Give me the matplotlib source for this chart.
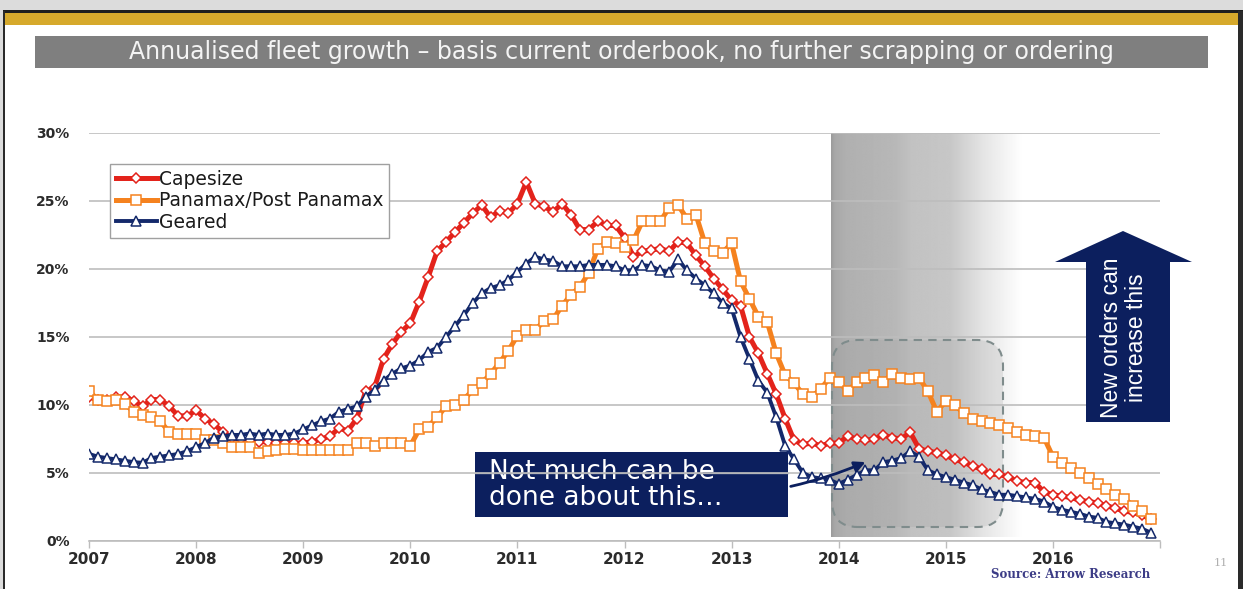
import numpy as np
import matplotlib
matplotlib.use("Agg")
import matplotlib.pyplot as plt
from matplotlib.patches import Rectangle, Polygon, FancyBboxPatch

# ---------------- data (percent, monthly Jan-2007 .. Dec-2016) ----------------
years = [2007, 2008, 2009, 2010, 2011, 2012, 2013, 2014, 2015, 2016]
tick_labels = ["2007", "2008", "2009", "2010", "2011", "2012", "2013", "2014", "2015", "2016", ""]
y_ticks = [0, 5, 10, 15, 20, 25, 30]

capesize = [
    10.6, 10.4, 10.4, 10.6, 10.6, 10.3, 9.9, 10.4, 10.4, 9.9, 9.2, 9.2,
    9.6, 9.0, 8.6, 8.0, 7.6, 7.5, 7.4, 7.3, 7.3, 7.2, 7.2, 7.2,
    7.2, 7.3, 7.5, 7.7, 8.3, 8.1, 9.0, 11.0, 11.3, 13.4, 14.5, 15.4,
    16.0, 17.6, 19.4, 21.3, 22.0, 22.7, 23.4, 24.1, 24.7, 23.8, 24.3, 24.1,
    24.8, 26.4, 24.8, 24.6, 24.2, 24.8, 24.0, 22.9, 22.9, 23.5, 23.2, 23.2,
    22.3, 20.9, 21.3, 21.4, 21.5, 21.3, 22.0, 21.9, 21.0, 20.2, 19.3, 18.5,
    17.7, 17.3, 15.0, 13.8, 12.3, 10.8, 9.0, 7.4, 7.1, 7.2, 7.0, 7.2,
    7.2, 7.7, 7.5, 7.4, 7.5, 7.8, 7.6, 7.5, 8.0, 6.8, 6.6, 6.5,
    6.3, 6.0, 5.8, 5.5, 5.3, 4.9, 4.9, 4.7, 4.4, 4.3, 4.3, 3.6,
    3.4, 3.3, 3.2, 3.0, 2.9, 2.8, 2.6, 2.4, 2.2, 2.1, 1.9, 1.6,
]
panamax = [
    11.0, 10.4, 10.3, 10.4, 10.1, 9.5, 9.3, 9.1, 8.8, 8.0, 7.9, 7.9,
    7.9, 7.4, 7.4, 7.2, 6.9, 6.9, 6.9, 6.5, 6.6, 6.7, 6.8, 6.8,
    6.7, 6.7, 6.7, 6.7, 6.7, 6.7, 7.2, 7.2, 7.0, 7.2, 7.2, 7.2,
    7.0, 8.2, 8.4, 9.1, 9.9, 10.0, 10.4, 11.1, 11.6, 12.3, 13.1, 14.0,
    15.1, 15.5, 15.5, 16.2, 16.3, 17.3, 18.1, 18.7, 19.7, 21.5, 22.0, 21.9,
    21.6, 22.1, 23.5, 23.5, 23.5, 24.5, 24.7, 23.7, 24.0, 21.9, 21.3, 21.2,
    21.9, 19.1, 17.8, 16.5, 16.1, 13.8, 12.2, 11.6, 10.8, 10.6, 11.2, 12.0,
    11.7, 11.0, 11.7, 12.0, 12.2, 11.7, 12.3, 12.0, 11.9, 12.0, 11.0, 9.5,
    10.3, 10.0, 9.4, 9.0, 8.8, 8.65, 8.5, 8.3, 8.0, 7.8, 7.7, 7.6,
    6.2, 5.7, 5.4, 5.0, 4.6, 4.2, 3.8, 3.4, 3.1, 2.6, 2.2, 1.6,
]
geared = [
    6.4, 6.2, 6.1, 6.0, 5.9, 5.8, 5.75, 6.1, 6.2, 6.3, 6.4, 6.6,
    6.9, 7.2, 7.6, 7.7, 7.8, 7.8, 7.9, 7.8, 7.9, 7.8, 7.8, 7.9,
    8.2, 8.5, 8.8, 9.0, 9.5, 9.7, 9.9, 10.6, 11.1, 11.8, 12.3, 12.7,
    12.9, 13.3, 13.9, 14.2, 15.0, 15.8, 16.6, 17.5, 18.2, 18.6, 18.8, 19.2,
    19.8, 20.4, 20.9, 20.7, 20.6, 20.2, 20.2, 20.2, 20.3, 20.3, 20.3, 20.2,
    19.9, 19.9, 20.3, 20.2, 19.9, 19.8, 20.7, 19.9, 19.3, 18.8, 18.2, 17.5,
    17.1, 15.0, 13.4, 11.8, 10.9, 9.1, 7.0, 6.0, 5.0, 4.7, 4.6, 4.5,
    4.2, 4.5, 4.85, 5.2, 5.2, 5.8, 5.9, 6.1, 6.6, 6.2, 5.2, 4.9,
    4.7, 4.5, 4.3, 4.1, 3.8, 3.6, 3.4, 3.4, 3.3, 3.2, 3.1, 2.9,
    2.5, 2.3, 2.15, 2.0, 1.8, 1.7, 1.4, 1.3, 1.2, 1.05, 0.9, 0.6,
]
series_names = ["Capesize", "Panamax/Post Panamax", "Geared"]

# monthly x positions in decimal years
months = [y + m / 12.0 for y in years for m in range(12)]

# ---------------- figure ----------------
W, H = 1243, 589
fig = plt.figure(figsize=(W / 100, H / 100), dpi=100)
fig.patch.set_facecolor("white")

def fx(px):
    return px / W

def fy(py):
    return 1 - py / H

# slide decoration
fig.add_artist(Rectangle((0, fy(11)), 1, 1 - fy(11), transform=fig.transFigure,
                         facecolor="#dcdcdc", edgecolor="none", zorder=0))
fig.add_artist(Rectangle((fx(3), fy(13)), 1, fy(10) - fy(13), transform=fig.transFigure,
                         facecolor="#1e1e1e", edgecolor="none", zorder=1))
fig.add_artist(Rectangle((fx(4), fy(25)), 1, fy(13) - fy(25), transform=fig.transFigure,
                         facecolor="#d6a92c", edgecolor="none", zorder=1))
fig.add_artist(Rectangle((0, 0), fx(3), fy(11), transform=fig.transFigure,
                         facecolor="#dcdcdc", edgecolor="none", zorder=0))
fig.add_artist(Rectangle((fx(3), 0), fx(1.5), fy(11), transform=fig.transFigure,
                         facecolor="#2a2a2a", edgecolor="none", zorder=1))
fig.add_artist(Rectangle((fx(1238), 0), fx(5), fy(11), transform=fig.transFigure,
                         facecolor="#2a2a2a", edgecolor="none", zorder=1))

# title bar
fig.add_artist(Rectangle((fx(35), fy(68)), fx(1208) - fx(35), fy(36) - fy(68),
                         transform=fig.transFigure, facecolor="#7f7f7f",
                         edgecolor="none", zorder=1))
fig.text(fx(621), fy(52.5), "Annualised fleet growth \u2013 basis current orderbook, no further scrapping or ordering",
         color="#f4f4f4", fontsize=17, ha="center", va="center", zorder=2)

# ---------------- axes ----------------
ax_l, ax_r, ax_t, ax_b = 89, 1160, 133, 541
ax = fig.add_axes([fx(ax_l), fy(ax_b), fx(ax_r) - fx(ax_l), fy(ax_t) - fy(ax_b)])
ax.set_facecolor("none")
ax.set_xlim(2007, 2017)
ax.set_ylim(0, 30)

def axp(px, py):
    return ((px - ax_l) / (ax_r - ax_l), (ax_b - py) / (ax_b - ax_t))

# gradient shading (2014 onwards, fading out)
cols = np.linspace(0, 1, 400)
grey = np.interp(cols, [0, 0.02, 0.08, 0.33, 0.42, 0.62, 0.80, 1.0],
                 [0.61, 0.66, 0.69, 0.72, 0.76, 0.78, 0.90, 1.0])
img = np.tile(grey, (2, 1))
ax.imshow(img, cmap="gray", vmin=0, vmax=1, aspect="auto",
          extent=(2013.93, 2015.72, 0.3, 30), zorder=0.02, interpolation="bilinear")

# dashed rounded rectangle
x0, y0 = 2007 + (832 - ax_l) / 107.1, (ax_b - 527) / 13.6
x1, y1 = 2007 + (1003 - ax_l) / 107.1, (ax_b - 340) / 13.6
rr = FancyBboxPatch((x0, y0), x1 - x0, y1 - y0,
                    boxstyle="round,pad=0,rounding_size=0.24",
                    mutation_aspect=(1.9 / 0.24),
                    facecolor=(0.6, 0.6, 0.6, 0.2), edgecolor="#7f8c8c",
                    linewidth=1.5, linestyle=(0, (4, 3)), zorder=0.04)
ax.add_patch(rr)

# "Not much can be done" box (behind the grid, as in the slide)
bx0, by0 = axp(475, 517)
bx1, by1 = axp(788, 452)
ax.add_patch(Rectangle((bx0, by0), bx1 - bx0, by1 - by0, transform=ax.transAxes,
                       facecolor="#0c1f5e", edgecolor="none", zorder=0.05))
tx, ty = axp(489, 485)
ax.text(tx, ty, "Not much can be\ndone about this\u2026", transform=ax.transAxes,
        color="white", fontsize=19, ha="left", va="center", linespacing=0.98, zorder=0.06)

# grid and spines
ax.set_yticks(y_ticks)
ax.set_yticklabels([f"{v}%" for v in y_ticks])
ax.yaxis.grid(True, color="#bdbdbd", linewidth=1.2)
ax.set_axisbelow(True)
ax.axhline(5, xmin=bx0, xmax=bx1, color="#8f95a8", lw=1.0, zorder=0.07)
ax.set_xticks(years + [2017])
ax.set_xticklabels(tick_labels)
for s in ["left", "right", "top"]:
    ax.spines[s].set_visible(False)
ax.spines["bottom"].set_color("#bdbdbd")
ax.spines["bottom"].set_linewidth(1.2)
ax.tick_params(axis="y", length=0, pad=14, labelsize=10, labelcolor="#2b2b2b")
ax.tick_params(axis="x", length=5, width=1, color="#bdbdbd", pad=3,
               labelsize=11, labelcolor="#2b2b2b")
for lab in ax.get_xticklabels() + ax.get_yticklabels():
    lab.set_fontweight("bold")

# series
red, orange, navy = "#e3231b", "#f5821f", "#14296b"
l1, = ax.plot(months, capesize, color=red, lw=3.6, marker="D", ms=5.2,
              mfc="white", mec=red, mew=1.1, zorder=3, label=series_names[0])
l2, = ax.plot(months, panamax, color=orange, lw=3.6, marker="s", ms=7.5,
              mfc="white", mec=orange, mew=1.1, zorder=4, label=series_names[1])
l3, = ax.plot(months, geared, color=navy, lw=2.8, marker="^", ms=7.5,
              mfc="white", mec=navy, mew=1.1, zorder=5, label=series_names[2])

leg = ax.legend(handles=[l1, l2, l3], loc="upper left",
                bbox_to_anchor=axp(110, 164), bbox_transform=ax.transAxes,
                borderaxespad=0, fontsize=13.5, frameon=True, fancybox=False,
                edgecolor="#a0a0a0", framealpha=1, numpoints=1,
                handlelength=2.2, handletextpad=0.1, labelspacing=0.14,
                borderpad=0.3)
leg.get_frame().set_linewidth(1.0)
for t in leg.get_texts():
    t.set_color("#1a1a1a")

# arrow from annotation box
ax.annotate("", xy=axp(868, 461), xytext=axp(788, 487),
            xycoords="axes fraction", textcoords="axes fraction",
            arrowprops=dict(arrowstyle="-|>", color="#0c1f5e", lw=2,
                            mutation_scale=16, connectionstyle="arc3,rad=0.05"),
            zorder=6)

# up arrow "New orders can increase this"
arrow_px = [(1086, 422), (1170, 422), (1170, 262), (1192, 262), (1123, 231),
            (1055, 262), (1086, 262)]
fig.add_artist(Polygon([(fx(a), fy(b)) for a, b in arrow_px], closed=True,
                       transform=fig.transFigure, facecolor="#0c1f5e",
                       edgecolor="none", zorder=5))
fig.text(fx(1124), fy(338), "New orders can\nincrease this", rotation=90,
         color="white", fontsize=16.5, ha="center", va="center",
         linespacing=1.12, zorder=6,
         family=["Liberation Sans Narrow", "Liberation Sans", "DejaVu Sans"])

# source and page number
fig.text(fx(1150), fy(575), "Source: Arrow Research", ha="right", va="center",
         fontsize=8.5, color="#3c3c86", fontweight="bold", family="DejaVu Serif")
fig.text(fx(1221), fy(563), "11", ha="center", va="center", fontsize=8,
         color="#b0b0b0", family="DejaVu Serif")

fig.savefig("out.png", dpi=100)
